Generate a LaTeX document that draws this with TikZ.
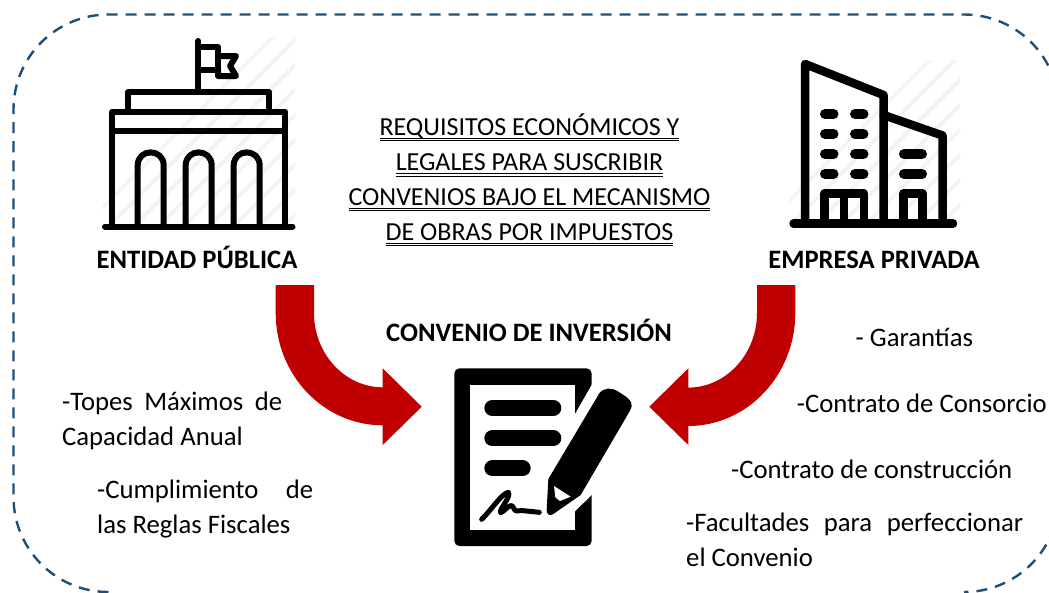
\documentclass[tikz,border=0pt]{standalone}
\usepackage{fontspec}
\setmainfont{Carlito}
\definecolor{framec}{HTML}{1F4E79}
\definecolor{arrowc}{HTML}{C00000}
\definecolor{hatchc}{HTML}{F3F3F3}
\newcommand{\dblu}[1]{\setbox0\hbox{#1}\leavevmode\rlap{\raisebox{-3.6pt}{\rule{\wd0}{0.9pt}}}\rlap{\raisebox{-6pt}{\rule{\wd0}{0.9pt}}}\box0}
\tikzset{
  frameline/.style={draw=framec,line width=2.4pt,dash pattern=on 11pt off 8pt},
  bigarrow/.style={fill=arrowc,draw=none},
  icon/.style={draw=black,line join=round,line cap=round},
  hatch/.style={draw=hatchc,line width=4pt},
  ttl/.style={inner sep=0pt,anchor=base,font=\fontsize{26}{26}\selectfont},
  hd/.style={inner sep=0pt,anchor=base,font=\fontsize{26.6}{27}\selectfont\bfseries},
  bd/.style={inner sep=0pt,anchor=base west,font=\fontsize{26.7}{27}\selectfont}
}
\begin{document}
\begin{tikzpicture}[x=1pt,y=-1pt]
\useasboundingbox (0,0) rectangle (1049,592);
\clip (0,0) rectangle (1049,592);
% frame
\draw[frameline] (108.5,592) .. controls (56,592) and (13.5,549.5) .. (13.5,497)
  -- (13.5,109.5) .. controls (13.5,57) and (56,14.5) .. (108.5,14.5)
  -- (964,14.5) .. controls (1016.5,14.5) and (1059,57) .. (1059,109.5)
  -- (1059,497) .. controls (1059,549.5) and (1016.5,592) .. (964,592);
% hatching
\begin{scope}
\clip (103,38) rectangle (295,226);
\foreach \k in {0,...,16}{\draw[hatch] (60+25*\k,250) -- ++(230,-230);}
\end{scope}
\begin{scope}
\clip (790,60) rectangle (960,226);
\foreach \k in {0,...,14}{\draw[hatch] (740+25*\k,250) -- ++(230,-230);}
\end{scope}
% public building
\begin{scope}[icon,line width=6pt]
\draw (198.3,41) -- (198.3,92);
\draw (198.3,47) -- (218,47) -- (218,70) -- (198.3,70);
\draw (218,56) -- (236,56) -- (230,66) -- (236,76) -- (218,76) -- (218,70);
\draw (128.3,111) -- (128.3,92.3) -- (269.3,92.3) -- (269.3,111);
\draw (112.3,226) -- (112.3,111.5) -- (285,111.5) -- (285,226);
\draw (112.3,131) -- (285,131);
\foreach \c in {150.7,198.7,246.7}{
  \draw (\c-13,226) -- (\c-13,165.5) .. controls (\c-13,148) and (\c+13,148) .. (\c+13,165.5) -- (\c+13,226);
}
\draw (105,226.5) -- (292.5,226.5);
\end{scope}
% private building
\begin{scope}[icon,line width=8.5pt]
\draw (805,223) -- (805,64) -- (883.5,95) -- (883.5,223);
\draw (883.5,115) -- (942.5,135.5) -- (942.5,223);
\draw (824.5,223) -- (824.5,193.5) -- (864,193.5) -- (864,223);
\draw (844,193.5) -- (844,223);
\draw (903.5,223) -- (903.5,193.5) -- (922.5,193.5) -- (922.5,223);
\draw (793.5,223.5) -- (953,223.5);
\end{scope}
\begin{scope}[icon,line width=10pt]
\foreach \y in {114,134,154,174}{
  \draw (825,\y) -- (833.5,\y);
  \draw (855,\y) -- (863.5,\y);
}
\foreach \y in {154,174}{\draw (904,\y) -- (922,\y);}
\end{scope}
% arrows
\fill[bigarrow] (275.7,285) -- (314,285) -- (314,313)
  .. controls (314,354) and (345,387.3) .. (382.7,387.3)
  -- (382.7,368.3) -- (421.7,406.7) -- (382.7,445) -- (382.7,425.3)
  .. controls (323.6,425.3) and (275.7,375) .. (275.7,313) -- cycle;
\fill[bigarrow] (795.3,285) -- (757,285) -- (757,313)
  .. controls (757,354) and (726,387.6) .. (688.3,387.6)
  -- (688.3,368.3) -- (649.3,406.7) -- (688.3,445) -- (688.3,426)
  .. controls (747.4,426) and (795.3,375) .. (795.3,313) -- cycle;
% document
\begin{scope}[shift={(260,280)},x=0.33333pt,y=-0.33333pt]
\fill[black,rounded corners=5pt] (583,265) rectangle (995,798);
\fill[white] (630,315) rectangle (945,750);
\fill[white] (945,402) -- (1000,306) -- (1000,640) -- (945,694) -- cycle;
\draw[icon,line width=16pt] (697,384) -- (880,384);
\draw[icon,line width=16pt] (697,475) -- (880,475);
\draw[icon,line width=16pt] (697,565) -- (788,565);
\fill[black,line join=round] (1018,340) .. controls (1032,322) and (1055,322) .. (1075,335)
  -- (1098,350) .. controls (1115,362) and (1120,375) .. (1110,392)
  -- (962,645) -- (880,702) .. controls (868,710) and (860,702) .. (860,690) -- (865,597) -- cycle;
\fill[white] (882,618) -- (932,650) -- (900,663) -- (886,652) -- cycle;
\draw[icon,line width=5pt] (665,718) .. controls (690,695) and (725,640) .. (745,637)
  .. controls (755,650) and (715,690) .. (722,698) .. controls (735,695) and (750,665) .. (760,682)
  .. controls (765,700) and (775,690) .. (790,692) -- (838,697);
\end{scope}
% texts
\node[ttl] (t1) at (529.5,135.2) {\dblu{REQUISITOS ECONÓMICOS Y}};
\node[ttl] (t2) at (529.5,170.7) {\dblu{LEGALES PARA SUSCRIBIR}};
\node[ttl] (t3) at (529.5,205.2) {\dblu{CONVENIOS BAJO EL MECANISMO}};
\node[ttl] (t4) at (529.5,240.2) {\dblu{DE OBRAS POR IMPUESTOS}};
\node[hd] (pub) at (197,268.4) {ENTIDAD PÚBLICA};
\node[hd] (pri) at (874,268.4) {EMPRESA PRIVADA};
\node[hd] (con) at (529,341.7) {CONVENIO DE INVERSIÓN};
\node[bd] (l1) at (62,410.7) {\makebox[220pt][s]{-Topes Máximos de}};
\node[bd] (l2) at (62,445.7) {Capacidad Anual};
\node[bd] (l3) at (97,498.7) {\makebox[216pt][s]{-Cumplimiento de}};
\node[bd] (l4) at (97,533.7) {las Reglas Fiscales};
\node[bd] (r1) at (855.5,346.7) {- Garantías};
\node[bd] (r2) at (796.7,412.7) {-Contrato de Consorcio};
\node[bd] (r3) at (731,478.7) {-Contrato de construcción};
\node[bd] (r4) at (686,531.7) {\makebox[337pt][s]{-Facultades para perfeccionar}};
\node[bd] (r5) at (686,566.7) {el Convenio};
\end{tikzpicture}
\end{document}
